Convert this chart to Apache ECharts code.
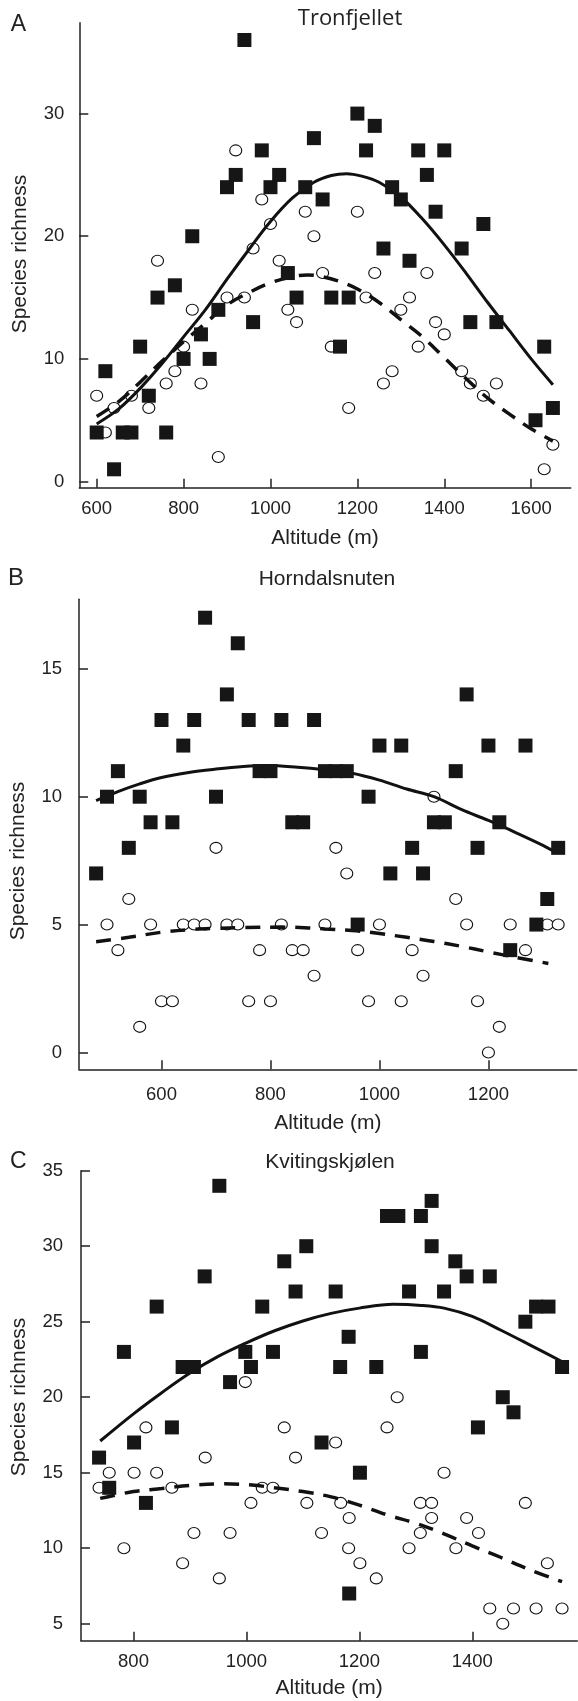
<!DOCTYPE html>
<html>
<head>
<meta charset="utf-8">
<script src="https://cdn.jsdelivr.net/npm/echarts@6/dist/echarts.min.js"></script>
<style>
html,body{margin:0;padding:0;background:#fff;}
#chart{width:578px;height:1701px;}
</style>
</head>
<body>
<div id="chart"></div>
<script>
// ---------- Panel A: Tronfjellet ----------
const aSquares = [[600,4],[620,9],[640,1],[660,4],[680,4],[700,11],[720,7],[740,15],[760,4],[780,16],[800,10],[820,20],[840,12],[860,10],[880,14],[900,24],[920,25],[940,36],[960,13],[980,27],[1000,24],[1020,25],[1040,17],[1060,15],[1080,24],[1100,28],[1120,23],[1140,15],[1160,11],[1180,15],[1200,30],[1220,27],[1240,29],[1260,19],[1280,24],[1300,23],[1320,18],[1340,27],[1360,25],[1380,22],[1400,27],[1440,19],[1460,13],[1490,21],[1520,13],[1610,5],[1630,11],[1650,6]];
const aCircles = [[600,7],[620,4],[640,6],[680,7],[720,6],[740,18],[760,8],[780,9],[800,11],[820,14],[840,8],[880,2],[900,15],[920,27],[940,15],[960,19],[980,23],[1000,21],[1020,18],[1040,14],[1060,13],[1080,22],[1100,20],[1120,17],[1140,11],[1180,6],[1200,22],[1220,15],[1240,17],[1260,8],[1280,9],[1300,14],[1320,15],[1340,11],[1360,17],[1380,13],[1400,12],[1440,9],[1460,8],[1490,7],[1520,8],[1630,1],[1650,3]];
const aSolid = [[600,4.7],[650,5.9],[700,7.6],[750,9.6],[800,11.8],[850,14.0],[900,16.5],[950,18.9],[1000,21.2],[1050,23.1],[1100,24.4],[1140,24.95],[1175,25.1],[1210,24.9],[1250,24.4],[1300,23.2],[1350,21.4],[1400,19.3],[1450,17.0],[1500,14.6],[1550,12.3],[1600,10.0],[1650,7.9]];
const aDashed = [[600,5.3],[650,6.5],[700,8.1],[750,9.8],[800,11.4],[850,12.9],[900,14.4],[950,15.4],[1000,16.2],[1050,16.7],[1085,16.85],[1120,16.7],[1160,16.3],[1200,15.7],[1250,14.6],[1300,13.2],[1350,11.8],[1400,10.1],[1450,8.4],[1500,6.8],[1550,5.5],[1600,4.3],[1650,3.3]];
const aXTicks = [600,800,1000,1200,1400,1600];
const aYTicks = [0,10,20,30];

// ---------- Panel B: Horndalsnuten ----------
const bSquares = [[480,7],[500,10],[520,11],[540,8],[560,10],[580,9],[600,13],[620,9],[640,12],[660,13],[680,17],[700,10],[720,14],[740,16],[760,13],[780,11],[800,11],[820,13],[840,9],[860,9],[880,13],[900,11],[920,11],[940,11],[960,5],[980,10],[1000,12],[1020,7],[1040,12],[1060,8],[1080,7],[1100,9],[1120,9],[1140,11],[1160,14],[1180,8],[1200,12],[1220,9],[1240,4],[1268,12],[1288,5],[1308,6],[1328,8]];
const bCircles = [[500,5],[520,4],[540,6],[560,1],[580,5],[600,2],[620,2],[640,5],[660,5],[680,5],[700,8],[720,5],[740,5],[760,2],[780,4],[800,2],[820,5],[840,4],[860,4],[880,3],[900,5],[920,8],[940,7],[960,4],[980,2],[1000,5],[1040,2],[1060,4],[1080,3],[1100,10],[1140,6],[1160,5],[1180,2],[1200,0],[1220,1],[1240,5],[1268,4],[1308,5],[1328,5]];
const bSolid = [[480,9.85],[520,10.2],[560,10.5],[600,10.75],[650,10.95],[700,11.08],[750,11.18],[795,11.22],[850,11.15],[900,11.05],[950,10.92],[1000,10.65],[1050,10.3],[1100,10.0],[1150,9.5],[1200,9.07],[1250,8.6],[1300,8.1],[1326,7.8]];
const bDashed = [[480,4.33],[540,4.5],[600,4.7],[650,4.8],[700,4.85],[750,4.88],[820,4.9],[870,4.87],[900,4.83],[950,4.77],[1000,4.65],[1050,4.5],[1100,4.34],[1150,4.15],[1200,3.93],[1250,3.72],[1310,3.48]];
const bXTicks = [600,800,1000,1200];
const bYTicks = [0,5,10,15];

// ---------- Panel C: Kvitingskjølen ----------
const cSquares = [[739,16],[757,14],[783,23],[801,17],[822,13],[841,26],[868,18],[887,22],[907,22],[926,28],[952,34],[971,21],[998,23],[1008,22],[1028,26],[1047,23],[1067,29],[1087,27],[1106,30],[1133,17],[1158,27],[1166,22],[1181,24],[1182,7],[1201,15],[1230,22],[1249,32],[1269,32],[1288,27],[1309,32],[1309,23],[1328,33],[1328,30],[1350,27],[1370,29],[1390,28],[1410,18],[1431,28],[1454,20],[1473,19],[1494,25],[1513,26],[1535,26],[1559,22]];
const cCircles = [[739,14],[757,15],[783,10],[801,15],[822,18],[841,15],[868,14],[887,9],[907,11],[927,16],[952,8],[971,11],[998,21],[1008,13],[1028,14],[1047,14],[1067,18],[1087,16],[1107,13],[1133,11],[1158,17],[1167,13],[1181,10],[1182,12],[1201,9],[1230,8],[1249,18],[1267,20],[1288,10],[1308,13],[1308,11],[1328,13],[1328,12],[1350,15],[1371,10],[1390,12],[1411,11],[1431,6],[1454,5],[1473,6],[1494,13],[1513,6],[1533,9],[1559,6]];
const cSolid = [[741,17.1],[800,18.9],[850,20.3],[900,21.6],[950,22.7],[1000,23.6],[1050,24.4],[1100,25.05],[1150,25.55],[1200,25.9],[1260,26.15],[1310,26.08],[1350,25.9],[1400,25.35],[1450,24.45],[1500,23.5],[1562,22.3]];
const cDashed = [[741,13.3],[800,13.75],[850,13.95],[900,14.15],[960,14.26],[1010,14.18],[1050,14.0],[1100,13.75],[1150,13.4],[1200,12.85],[1250,12.2],[1300,11.65],[1350,10.95],[1400,10.15],[1450,9.4],[1500,8.6],[1559,7.78]];
const cXTicks = [800,1000,1200,1400];
const cYTicks = [5,10,15,20,25,30,35];

const titles = ['Tronfjellet','Horndalsnuten','Kvitingskjølen'];
const letters = ['A','B','C'];
const xName = 'Altitude (m)';
const yName = 'Species richness';

const SANS = '"Liberation Sans", Arial, sans-serif';
const INK = '#222';

const panels = [
  {grid:{left:79.3, top:22.7, width:491.4, height:465}, x:[560,1691], y:[-0.5,37.41], xt:aXTicks, yt:aYTicks, lm:12, ng:40, ym:15,
   sq:aSquares, ci:aCircles, so:aSolid, da:aDashed},
  {grid:{left:79, top:599.3, width:497.7, height:470}, x:[448.6,1362], y:[-0.66,17.72], xt:bXTicks, yt:bYTicks, lm:16.5, ng:43, ym:17,
   sq:bSquares, ci:bCircles, so:bSolid, da:bDashed},
  {grid:{left:81, top:1170.7, width:496.3, height:470}, x:[707,1586], y:[3.874,35], xt:cXTicks, yt:cYTicks, lm:12, ng:37, ym:18,
   sq:cSquares, ci:cCircles, so:cSolid, da:cDashed}
];

const plain = v => String(v);
const grids = [], xAxes = [], yAxes = [], series = [];
panels.forEach((p, i) => {
  grids.push(Object.assign({containLabel:false}, p.grid));
  const axisLine = {show:true, onZero:false, lineStyle:{color:INK, width:1.5}};
  xAxes.push({
    gridIndex:i, type:'value', min:p.x[0], max:p.x[1],
    axisLine, splitLine:{show:false},
    axisTick:{show:true, inside:true, length:9, customValues:p.xt, lineStyle:{color:INK, width:1.5}},
    axisLabel:{customValues:p.xt, formatter:plain, margin:p.lm, fontSize:18.5, color:INK, fontFamily:SANS},
    name:xName, nameLocation:'middle', nameGap:p.ng,
    nameTextStyle:{fontSize:21, color:INK, fontFamily:SANS}
  });
  yAxes.push({
    gridIndex:i, type:'value', min:p.y[0], max:p.y[1],
    axisLine, splitLine:{show:false},
    axisTick:{show:true, inside:true, length:9, customValues:p.yt, lineStyle:{color:INK, width:1.5}},
    axisLabel:{customValues:p.yt, formatter:plain, margin:p.ym, fontSize:18.5, color:INK, fontFamily:SANS}
  });
  series.push({
    type:'scatter', xAxisIndex:i, yAxisIndex:i, data:p.ci, symbol:'circle', symbolSize:[12,11],
    itemStyle:{color:'#fff', borderColor:'#111', borderWidth:1.1, opacity:1}, z:2, silent:true
  });
  series.push({
    type:'line', xAxisIndex:i, yAxisIndex:i, data:p.so, smooth:0.35, symbol:'none',
    lineStyle:{color:'#111', width:3}, z:3, silent:true
  });
  series.push({
    type:'line', xAxisIndex:i, yAxisIndex:i, data:p.da, smooth:0.35, symbol:'none',
    lineStyle:{color:'#111', width:3.5, type:[15,10]}, z:3, silent:true
  });
  series.push({
    type:'scatter', xAxisIndex:i, yAxisIndex:i, data:p.sq, symbol:'rect', symbolSize:14,
    itemStyle:{color:'#161616', opacity:1}, z:4, silent:true
  });
});

function txt(text, x, y, size, family, rot) {
  return {type:'text', x:x, y:y, rotation:rot || 0, silent:true,
    style:{text:text, x:0, y:0, fontSize:size, fontFamily:family, fill:INK,
      align:'center', verticalAlign:'middle', textAlign:'center', textVerticalAlign:'middle'}};
}

const graphics = [
  txt(titles[0], 350, 19, 22, '"Open Sans", sans-serif'),
  txt(titles[1], 327, 579, 21, SANS),
  txt(titles[2], 330, 1162, 21, SANS),
  txt(letters[0], 18.3, 25, 23, SANS),
  txt(letters[1], 16, 578, 24, SANS),
  txt(letters[2], 18.3, 1162, 23, SANS),
  txt(yName, 20, 254, 21, SANS, Math.PI/2),
  txt(yName, 18, 861, 21, SANS, Math.PI/2),
  txt(yName, 19, 1397, 21, SANS, Math.PI/2)
];

const chart = echarts.init(document.getElementById('chart'), null, {renderer:'canvas'});
chart.setOption({
  animation:false,
  backgroundColor:'#fff',
  grid:grids, xAxis:xAxes, yAxis:yAxes, series:series, graphic:graphics
});
</script>
</body>
</html>
